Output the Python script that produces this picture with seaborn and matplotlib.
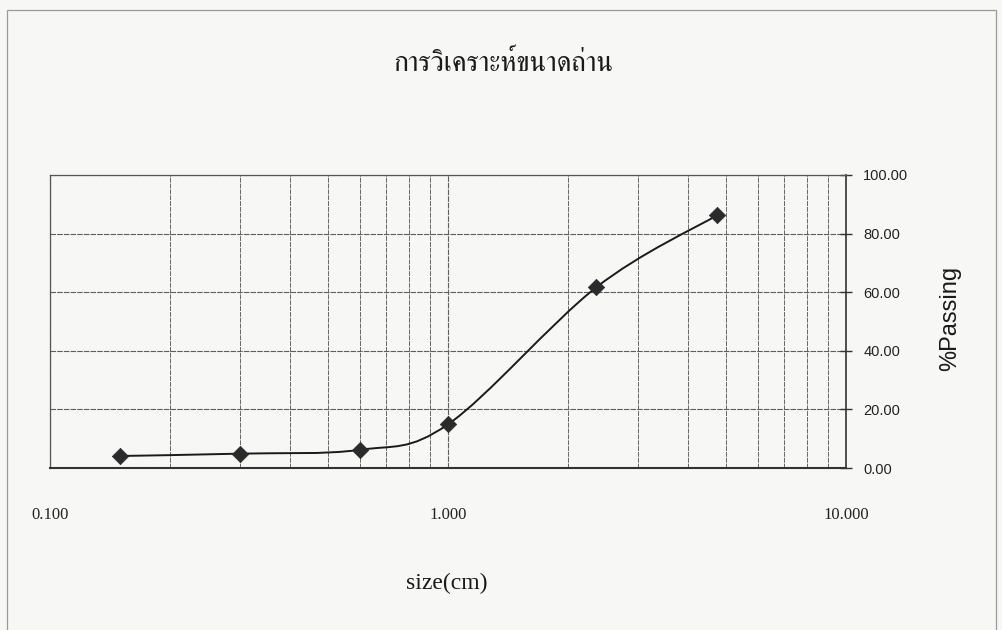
import numpy as np
import pandas as pd
import seaborn as sns
import matplotlib
matplotlib.use("Agg")
import matplotlib.pyplot as plt
from matplotlib import font_manager as fm
from matplotlib.ft2font import FT2Font
from matplotlib.path import Path
from matplotlib.patches import PathPatch, Rectangle
from matplotlib.ticker import FixedLocator, LogLocator, NullFormatter

# Sieve analysis data
sizes_cm = [0.15, 0.30, 0.60, 1.00, 2.36, 4.75]
passing_pct = [4.1, 4.9, 6.2, 14.9, 61.7, 86.3]
x_ticks = [0.1, 1.0, 10.0]
x_tick_labels = ["0.100", "1.000", "10.000"]
y_ticks = [0, 20, 40, 60, 80, 100]
y_tick_labels = ["0.00", "20.00", "40.00", "60.00", "80.00", "100.00"]
title_text = "การวิเคราะห์ขนาดถ่าน"
x_label = "size(cm)"
y_label = "%Passing"


def font_with(char_code, prefer=()):
    """Return the name of an installed font that has a glyph for char_code."""
    found = []
    for f in fm.fontManager.ttflist:
        try:
            if char_code in FT2Font(f.fname).get_charmap():
                found.append(f.name)
        except Exception:
            pass
    for p in prefer:
        for name in found:
            if p.lower() in name.lower():
                return name
    return found[0] if found else "DejaVu Sans"


thai_family = font_with(0x0E01, prefer=("Serif", "Loopless", "Sans"))

sns.set_theme(style="white")
plt.rcParams["font.family"] = ["Liberation Sans", "DejaVu Sans"]

bg = "#f7f7f6"
fig = plt.figure(figsize=(10.02, 6.30), dpi=100, facecolor=bg)
ax = fig.add_axes([50 / 1002, 1 - 468 / 630, (846 - 50) / 1002, (468 - 175) / 630])
ax.set_facecolor(bg)

# Outer chart frame
fig.patches.append(Rectangle((7 / 1002, -0.05), (996 - 7) / 1002, 1.05 - 10 / 630,
                             transform=fig.transFigure, fill=False,
                             edgecolor="#9a9a9a", linewidth=0.9))

df = pd.DataFrame({"size": sizes_cm, "passing": passing_pct})

# Smoothed curve (Catmull-Rom style Bezier segments in log-x space)
u = np.log10(np.asarray(sizes_cm, float))
v = np.asarray(passing_pct, float)
pts = np.column_stack([u, v])
ext = np.vstack([pts[0], pts, pts[-1]])
verts = [tuple(pts[0])]
codes = [Path.MOVETO]
for i in range(len(pts) - 1):
    p0, p1, p2, p3 = ext[i], ext[i + 1], ext[i + 2], ext[i + 3]
    c1 = p1 + (p2 - p0) / 6.0
    c2 = p2 - (p3 - p1) / 6.0
    verts += [tuple(c1), tuple(c2), tuple(p2)]
    codes += [Path.CURVE4] * 3
verts = np.array(verts)
verts[:, 0] = 10 ** verts[:, 0]
ax.add_patch(PathPatch(Path(verts, codes), fill=False, edgecolor="#1a1a1a",
                       linewidth=1.4, transform=ax.transData, zorder=3))

sns.scatterplot(data=df, x="size", y="passing", marker="D", s=70,
                color="#2b2b2b", edgecolor="#2b2b2b", linewidth=0.5,
                ax=ax, zorder=4, legend=False)

ax.set_xscale("log")
ax.set_xlim(0.1, 10)
ax.set_ylim(0, 100)

ax.xaxis.set_major_locator(FixedLocator(x_ticks))
ax.set_xticks(x_ticks)
ax.set_xticklabels(x_tick_labels, family="Liberation Serif", fontsize=12, color="#222222")
ax.xaxis.set_minor_locator(LogLocator(base=10, subs=np.arange(2, 10)))
ax.xaxis.set_minor_formatter(NullFormatter())
ax.tick_params(axis="x", which="both", length=0, pad=28)

ax.yaxis.tick_right()
ax.set_yticks(y_ticks)
ax.set_yticklabels(y_tick_labels, fontsize=10.5, color="#222222")
ax.tick_params(axis="y", which="major", direction="inout", length=9, width=1.0,
               color="#333333", pad=8, right=True, left=False)

ax.grid(True, which="major", axis="both", color="#5e5e5e", linewidth=0.8, linestyle=(0, (5, 1)))
ax.grid(True, which="minor", axis="x", color="#666666", linewidth=0.7, linestyle=(0, (5, 1)))

for side in ["left", "right", "top", "bottom"]:
    ax.spines[side].set_visible(True)
    ax.spines[side].set_color("#555555")
    ax.spines[side].set_linewidth(0.9)
ax.spines["bottom"].set_color("#333333")
ax.spines["bottom"].set_linewidth(1.5)
ax.spines["right"].set_color("#333333")
ax.spines["right"].set_linewidth(1.2)

ax.set_xlabel("")
ax.set_ylabel("")

fig.text(447 / 1002, 1 - 583 / 630, x_label, family="Liberation Serif", fontsize=17,
         color="#1a1a1a", ha="center", va="center")
fig.text(950 / 1002, 1 - 318 / 630, y_label, fontsize=17, rotation=90,
         color="#1a1a1a", ha="center", va="center")
fig.text(503 / 1002, 1 - 63 / 630, title_text, family=[thai_family, "DejaVu Sans"],
         fontsize=20, color="#1a1a1a", ha="center", va="center")

fig.savefig("out.png", dpi=100, facecolor=bg)
